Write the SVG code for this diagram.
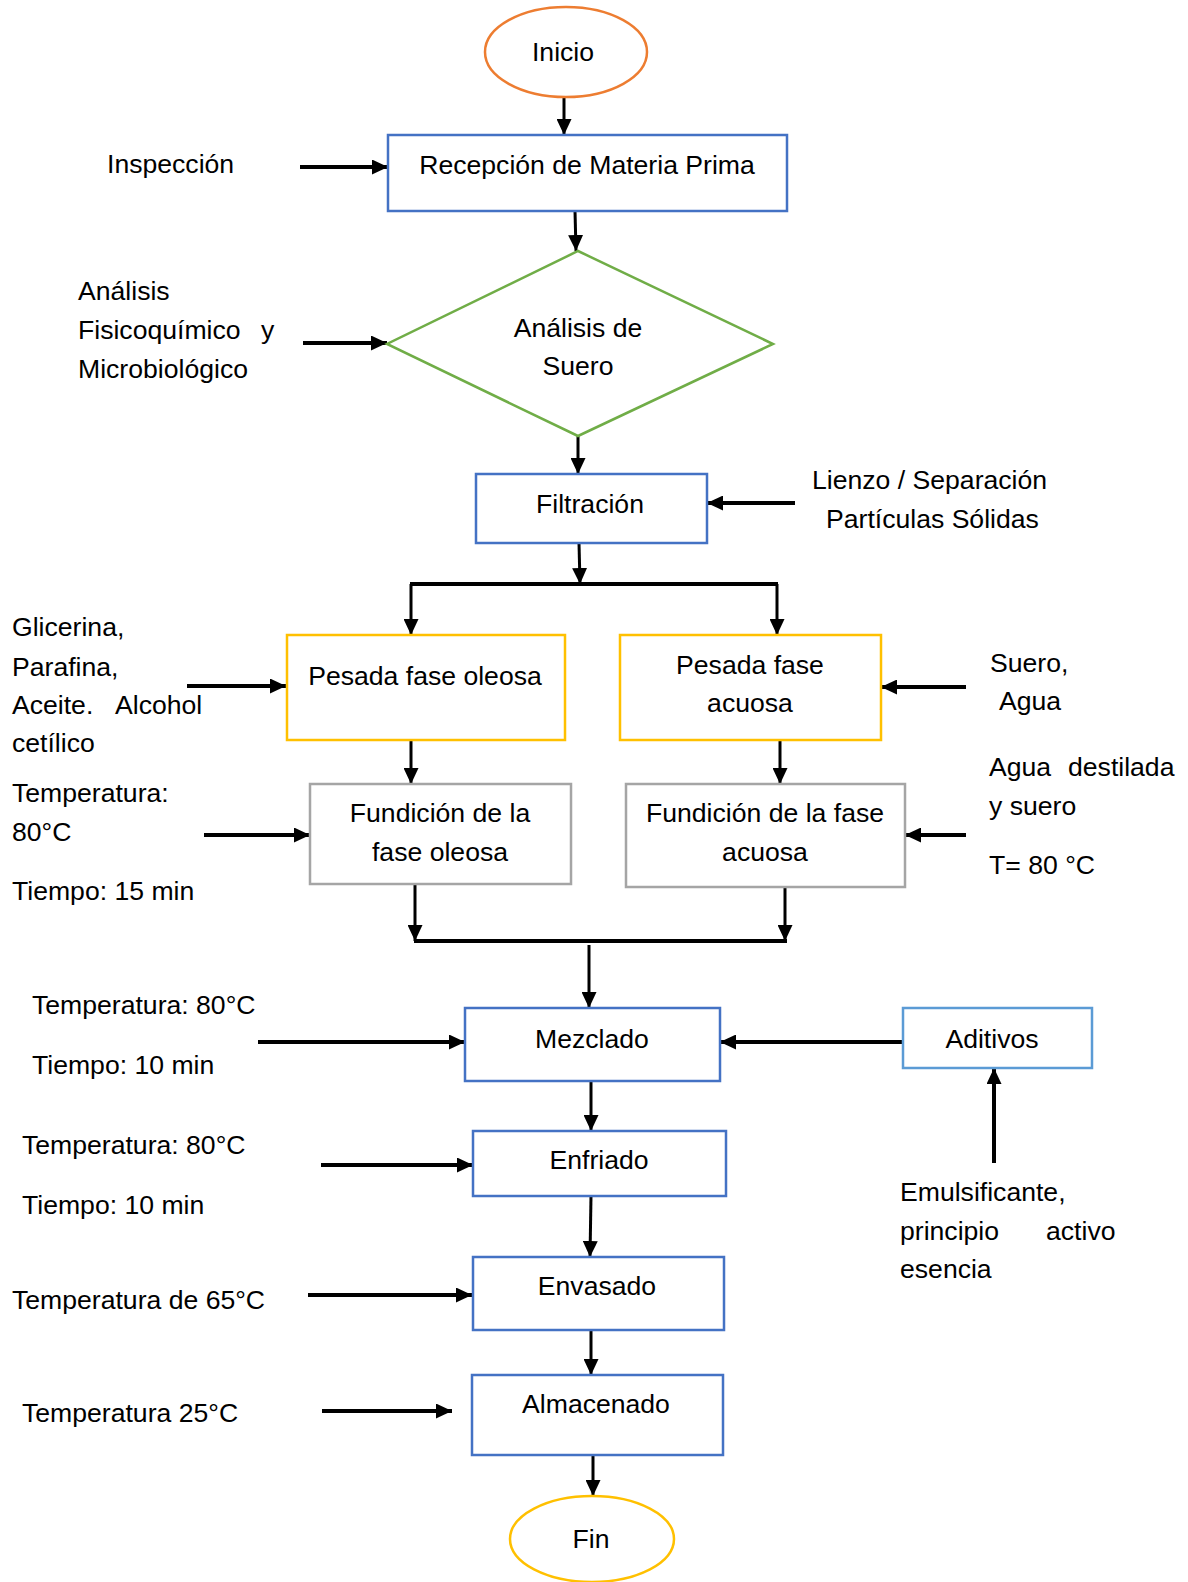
<svg xmlns="http://www.w3.org/2000/svg" width="1188" height="1582" viewBox="0 0 1188 1582">
<style>
text{font-family:"Liberation Sans",Arial,sans-serif;font-size:26.6px;fill:#000}
.c{text-anchor:middle}
.blue{fill:#fff;stroke:#4472C4;stroke-width:2.5}
.lblue{fill:#fff;stroke:#5B9BD5;stroke-width:2.5}
.yel{fill:#fff;stroke:#FFC000;stroke-width:2.5}
.grey{fill:#fff;stroke:#A5A5A5;stroke-width:2.5}
.m{fill:none;stroke:#000;stroke-width:3;marker-end:url(#ah)}
.s{fill:none;stroke:#000;stroke-width:4;marker-end:url(#ah)}
.l{fill:none;stroke:#000;stroke-width:4}
</style>
<defs>
<marker id="ah" markerUnits="userSpaceOnUse" markerWidth="16" markerHeight="15" refX="16" refY="7.5" orient="auto" viewBox="0 0 16 15">
<path d="M0,0 L16,7.5 L0,15 z" fill="#000"/>
</marker>
</defs>
<rect width="1188" height="1582" fill="#fff"/>

<g id="connectors">
<path class="m" d="M564,98 L564,135"/>
<path class="m" d="M575,211 L576,251"/>
<path class="m" d="M578,436 L578,474"/>
<path class="m" d="M579,543 L580,584"/>
<path class="l" d="M410,584 L778,584"/>
<path class="m" d="M411,584 L411,635"/>
<path class="m" d="M777,584 L777,635"/>
<path class="m" d="M411,740 L411,784"/>
<path class="m" d="M780,740 L780,784"/>
<path class="m" d="M415,884 L415,941"/>
<path class="m" d="M785,887 L785,941"/>
<path class="l" d="M414,941 L787,941"/>
<path class="m" d="M589,945 L589,1008"/>
<path class="m" d="M591,1081 L591,1131"/>
<path class="m" d="M591,1196 L590,1257"/>
<path class="m" d="M591,1330 L591,1375"/>
<path class="m" d="M593,1455 L593,1496"/>
<path class="s" d="M300,167 L388,167"/>
<path class="s" d="M303,343 L387,343"/>
<path class="s" d="M795,503 L707,503"/>
<path class="s" d="M187,686 L286,686"/>
<path class="s" d="M966,687 L881,687"/>
<path class="s" d="M204,835 L310,835"/>
<path class="s" d="M966,835 L905,835"/>
<path class="s" d="M258,1042 L465,1042"/>
<path class="s" d="M903,1042 L720,1042"/>
<path class="s" d="M994,1163 L994,1068"/>
<path class="s" d="M321,1165 L473,1165"/>
<path class="s" d="M308,1295 L472,1295"/>
<path class="s" d="M322,1411 L452,1411"/>
</g>

<g id="inicio"><ellipse cx="566" cy="52" rx="81" ry="45" fill="#fff" stroke="#ED7D31" stroke-width="2.5"/><text class="c" x="563" y="61">Inicio</text></g>
<g id="recepcion"><rect class="blue" x="388" y="135" width="399" height="76"/><text class="c" x="587" y="174">Recepción de Materia Prima</text></g>
<g id="analisis"><polygon points="578,251 773,344 578,436 387,344" fill="#fff" stroke="#70AD47" stroke-width="2.5"/><text class="c" x="578" y="337">Análisis de</text><text class="c" x="578" y="375">Suero</text></g>
<g id="filtracion"><rect class="blue" x="476" y="474" width="231" height="69"/><text class="c" x="590" y="513">Filtración</text></g>
<g id="pesada-oleosa"><rect class="yel" x="287" y="635" width="278" height="105"/><text class="c" x="425" y="685">Pesada fase oleosa</text></g>
<g id="pesada-acuosa"><rect class="yel" x="620" y="635" width="261" height="105"/><text class="c" x="750" y="674">Pesada fase</text><text class="c" x="750" y="712">acuosa</text></g>
<g id="fundicion-oleosa"><rect class="grey" x="310" y="784" width="261" height="100"/><text class="c" x="440" y="822">Fundición de la</text><text class="c" x="440" y="861">fase oleosa</text></g>
<g id="fundicion-acuosa"><rect class="grey" x="626" y="784" width="279" height="103"/><text class="c" x="765" y="822">Fundición de la fase</text><text class="c" x="765" y="861">acuosa</text></g>
<g id="mezclado"><rect class="blue" x="465" y="1008" width="255" height="73"/><text class="c" x="592" y="1048">Mezclado</text></g>
<g id="aditivos"><rect class="lblue" x="903" y="1008" width="189" height="60"/><text class="c" x="992" y="1048">Aditivos</text></g>
<g id="enfriado"><rect class="blue" x="473" y="1131" width="253" height="65"/><text class="c" x="599" y="1169">Enfriado</text></g>
<g id="envasado"><rect class="blue" x="473" y="1257" width="251" height="73"/><text class="c" x="597" y="1295">Envasado</text></g>
<g id="almacenado"><rect class="blue" x="472" y="1375" width="251" height="80"/><text class="c" x="596" y="1413">Almacenado</text></g>
<g id="fin"><ellipse cx="592" cy="1539" rx="82" ry="43" fill="#fff" stroke="#FFC000" stroke-width="2.5"/><text class="c" x="591" y="1548">Fin</text></g>

<g id="labels">
<text x="107" y="173">Inspección</text>
<text x="78" y="300">Análisis</text>
<text y="339"><tspan x="78">Fisicoquímico</tspan><tspan x="261">y</tspan></text>
<text x="78" y="378">Microbiológico</text>
<text x="812" y="489">Lienzo / Separación</text>
<text x="826" y="528">Partículas Sólidas</text>
<text x="12" y="636">Glicerina,</text>
<text x="12" y="676">Parafina,</text>
<text y="714"><tspan x="12">Aceite.</tspan><tspan x="115">Alcohol</tspan></text>
<text x="12" y="752">cetílico</text>
<text x="990" y="672">Suero,</text>
<text x="999" y="710">Agua</text>
<text x="12" y="802">Temperatura:</text>
<text x="12" y="841">80°C</text>
<text x="12" y="900">Tiempo: 15 min</text>
<text y="776"><tspan x="989">Agua</tspan><tspan x="1068">destilada</tspan></text>
<text x="989" y="815">y suero</text>
<text x="989" y="874">T= 80 °C</text>
<text x="32" y="1014">Temperatura: 80°C</text>
<text x="32" y="1074">Tiempo: 10 min</text>
<text x="22" y="1154">Temperatura: 80°C</text>
<text x="22" y="1214">Tiempo: 10 min</text>
<text x="900" y="1201">Emulsificante,</text>
<text y="1240"><tspan x="900">principio</tspan><tspan x="1046">activo</tspan></text>
<text x="900" y="1278">esencia</text>
<text x="12" y="1309">Temperatura de 65°C</text>
<text x="22" y="1422">Temperatura 25°C</text>
</g>
</svg>
